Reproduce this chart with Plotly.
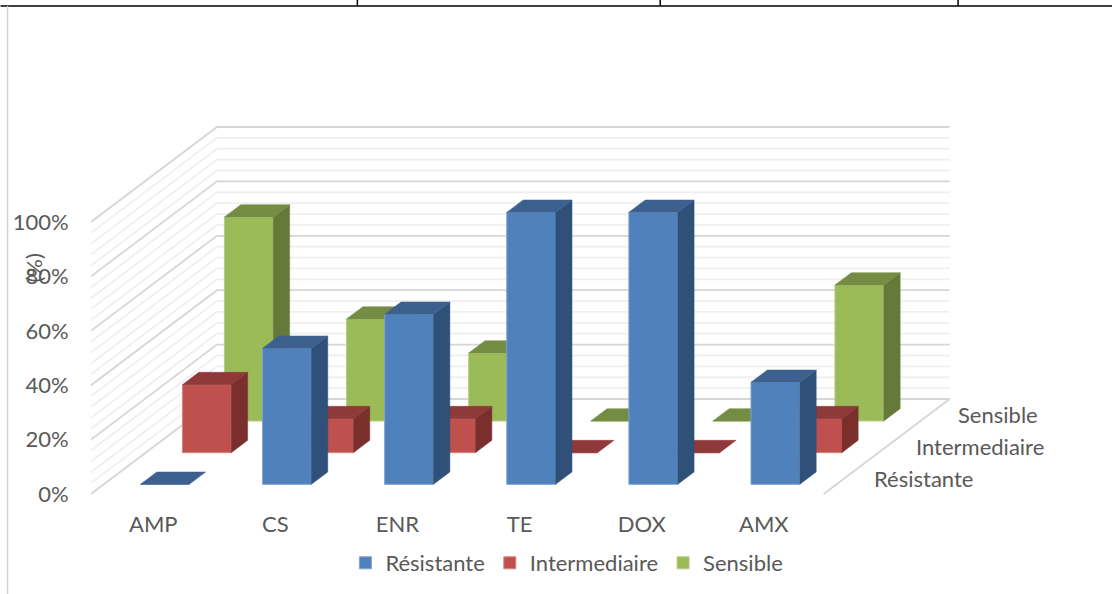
import plotly.graph_objects as go

# Antibiotic resistance profile, drawn as a 3-D style column chart
categories = ["AMP", "CS", "ENR", "TE", "DOX", "AMX"]
series_names = ["Résistante", "Intermediaire", "Sensible"]
resistante = [0, 50, 62.5, 100, 100, 37.5]
intermediaire = [25, 12.5, 12.5, 0, 0, 12.5]
sensible = [75, 37.5, 25, 0, 0, 50]
series_values = [resistante, intermediaire, sensible]

major_ticks = [0, 20, 40, 60, 80, 100]
major_labels = ["0%", "20%", "40%", "60%", "80%", "100%"]
minor_ticks = [4, 8, 12, 16, 24, 28, 32, 36, 44, 48, 52, 56, 64, 68, 72, 76, 84, 88, 92, 96]

# Face colours per series: front, top, side
front_colors = ["#4F81BD", "#C0504D", "#9BBB59"]
edge_colors = ["#7FA3D0", "#D98482", "#B5CE84"]
top_colors = ["#3C618E", "#90393A", "#748C43"]
side_colors = ["#2F5078", "#7B2F2D", "#657A3A"]

WIDTH, HEIGHT = 1112, 594
PLOT_LEFT, PLOT_TOP, PLOT_BOTTOM = 90.5, 26, 503
PX_PER_CAT = 122.17
PX_PER_PCT = 2.72
ZERO_PX = 494
DEPTH_X = 126 / PX_PER_CAT   # oblique shift of the full floor depth, in category units
DEPTH_Y = 95 / PX_PER_PCT    # same shift, in percent units
BAR_WIDTH = 0.4
BAR_DEPTH = 0.13
TEXT = "#595959"
FONT = "Lato"
FONT_SIZE = 22

x_range = [0, (WIDTH - PLOT_LEFT) / PX_PER_CAT]
y_range = [(ZERO_PX - PLOT_BOTTOM) / PX_PER_PCT, (ZERO_PX - PLOT_TOP) / PX_PER_PCT]


def project(x, value, depth):
    """Oblique projection of (category position, percent, floor depth 0..1)."""
    return x + depth * DEPTH_X, value + depth * DEPTH_Y


def polygon(points):
    xs = [p[0] for p in points] + [points[0][0]]
    ys = [p[1] for p in points] + [points[0][1]]
    return xs, ys


def paper_x(px):
    return (px - PLOT_LEFT) / (WIDTH - PLOT_LEFT)


def paper_y(py):
    return (PLOT_BOTTOM - py) / (PLOT_BOTTOM - PLOT_TOP)


fig = go.Figure()


def wall_line(value, color, width):
    a = project(0, value, 0)
    b = project(0, value, 1)
    c = project(len(categories), value, 1)
    fig.add_trace(go.Scatter(x=[a[0], b[0], c[0]], y=[a[1], b[1], c[1]], mode="lines",
                             line=dict(color=color, width=width), showlegend=False,
                             hoverinfo="skip"))


for v in minor_ticks:
    wall_line(v, "#EFEFEF", 1.8)
for v in major_ticks:
    wall_line(v, "#D6D6D6", 1.8)

# Right-hand floor edge
e0 = project(len(categories), 0, 0)
e1 = project(len(categories), 0, 1)
fig.add_trace(go.Scatter(x=[e0[0], e1[0]], y=[e0[1], e1[1]], mode="lines",
                         line=dict(color="#D6D6D6", width=1.8), showlegend=False,
                         hoverinfo="skip"))

# One overlaid axis pair per series so the rear row paints first
layer_axes = [("x4", "y4"), ("x3", "y3"), ("x2", "y2")]

for i, (name, values) in enumerate(zip(series_names, series_values)):
    front = (i + 0.5) / len(series_names) - BAR_DEPTH / 2
    back = front + BAR_DEPTH
    xa, ya = layer_axes[i]
    centers = [k + 0.5 for k in range(len(categories))]
    fig.add_trace(go.Bar(
        x=[project(c, 0, front)[0] for c in centers],
        y=values,
        base=[project(0, 0, front)[1]] * len(values),
        width=BAR_WIDTH,
        name=name,
        xaxis=xa, yaxis=ya,
        marker=dict(color=front_colors[i], line=dict(color=edge_colors[i], width=1)),
        hoverinfo="skip",
    ))
    for c, v in zip(centers, values):
        left, right = c - BAR_WIDTH / 2, c + BAR_WIDTH / 2
        top_face = [project(left, v, front), project(right, v, front),
                    project(right, v, back), project(left, v, back)]
        side_face = [project(right, 0, front), project(right, v, front),
                     project(right, v, back), project(right, 0, back)]
        for face, color in ((side_face, side_colors[i]), (top_face, top_colors[i])):
            if face is side_face and v == 0:
                continue
            xs, ys = polygon(face)
            fig.add_trace(go.Scatter(x=xs, y=ys, mode="lines", fill="toself",
                                     fillcolor=color, line=dict(color=color, width=0.5),
                                     xaxis=xa, yaxis=ya, showlegend=False, hoverinfo="skip"))

# Depth-axis labels
annotations = []
for i, name in enumerate(series_names):
    px, py = project(len(categories), 0, (i + 0.5) / len(series_names))
    annotations.append(dict(x=px, y=py, xref="x", yref="y", text=name, showarrow=False,
                            xanchor="left", yanchor="middle", xshift=27,
                            font=dict(family=FONT, size=FONT_SIZE, color=TEXT)))

# Value-axis title
annotations.append(dict(x=paper_x(32), y=paper_y(268), xref="paper", yref="paper", text="(%)",
                        textangle=-90, showarrow=False, xanchor="center", yanchor="middle",
                        font=dict(family=FONT, size=FONT_SIZE, color=TEXT)))

# Surrounding page rules above and left of the chart
page_lines = [
    (0, 6, WIDTH, 6, "#000000", 1.5),
    (357, 0, 357, 6, "#000000", 1.5),
    (660, 0, 660, 6, "#000000", 1.5),
    (958, 0, 958, 6, "#000000", 1.5),
    (7, 6, 7, HEIGHT, "#D4D4D4", 1.5),
]
shapes = [dict(type="line", xref="paper", yref="paper", x0=paper_x(a), y0=paper_y(b),
               x1=paper_x(c), y1=paper_y(d), line=dict(color=col, width=w), layer="above")
          for a, b, c, d, col, w in page_lines]

hidden = dict(visible=False, fixedrange=True)
layout_axes = {}
for n in (2, 3, 4):
    layout_axes[f"xaxis{n}"] = dict(range=x_range, overlaying="x", anchor=f"y{n}", **hidden)
    layout_axes[f"yaxis{n}"] = dict(range=y_range, overlaying="y", anchor=f"x{n}", **hidden)

fig.update_layout(
    width=WIDTH, height=HEIGHT,
    margin=dict(l=PLOT_LEFT, r=0, t=PLOT_TOP, b=HEIGHT - PLOT_BOTTOM, autoexpand=False),
    paper_bgcolor="white", plot_bgcolor="white",
    font=dict(family=FONT, size=FONT_SIZE, color=TEXT),
    xaxis=dict(range=x_range, tickmode="array",
               tickvals=[k + 0.51 for k in range(len(categories))], ticktext=categories,
               showgrid=False, zeroline=False, showline=False, ticks="outside",
               tickcolor="rgba(0,0,0,0)", ticklen=2, tickfont=dict(family=FONT, size=FONT_SIZE, color=TEXT)),
    yaxis=dict(range=y_range, tickmode="array", tickvals=major_ticks, ticktext=major_labels,
               showgrid=False, zeroline=False, showline=False, ticks="outside",
               tickcolor="rgba(0,0,0,0)", ticklen=17, tickfont=dict(family=FONT, size=FONT_SIZE, color=TEXT)),
    legend=dict(orientation="h", x=paper_x(345), y=paper_y(563), xanchor="left", yanchor="middle",
                bgcolor="rgba(0,0,0,0)", font=dict(family=FONT, size=FONT_SIZE, color=TEXT)),
    annotations=annotations,
    shapes=shapes,
    **layout_axes,
)

fig.write_html("out.html", config={"displayModeBar": False})
